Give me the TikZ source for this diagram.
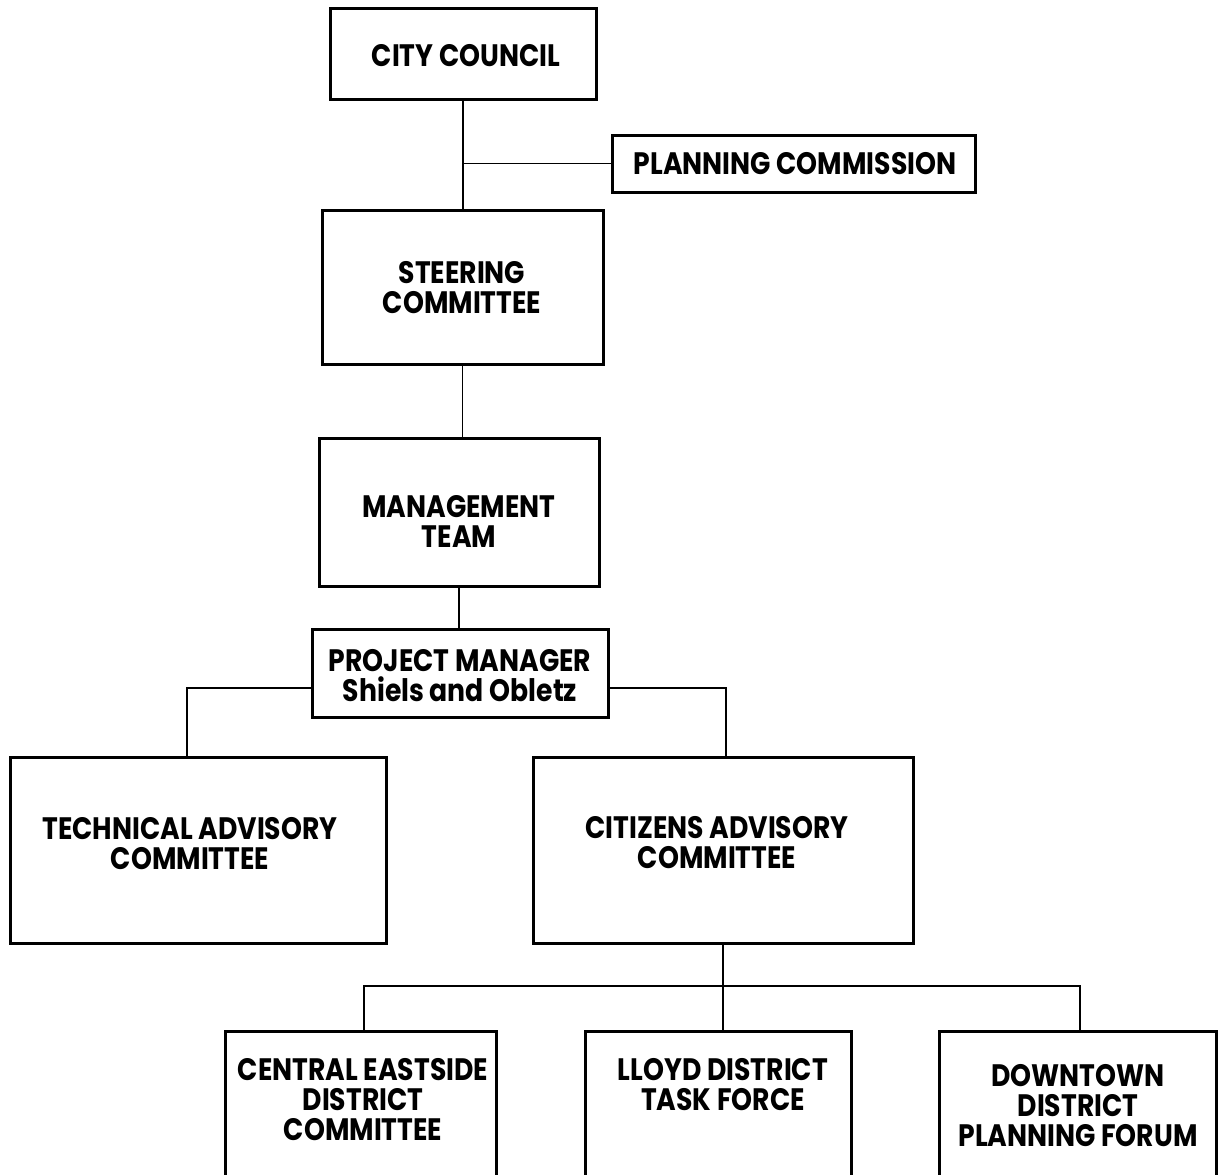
\documentclass[tikz,border=0pt]{standalone}
\usepackage{fontspec}
\newfontfamily\chartfont{Poppins}[FakeStretch=0.86]
\begin{document}
\begin{tikzpicture}[x=0.5pt,y=-0.5pt,
  box/.style={draw=black, line width=1.5pt, fill=white, inner sep=0pt, align=center,
    font=\chartfont\bfseries\fontsize{15.5pt}{15pt}\selectfont},
  txt/.style={inner sep=0pt, align=center, font=\chartfont\bfseries\fontsize{15.5pt}{15pt}\selectfont},
  link/.style={draw=black, line width=0.7pt}]
\clip (0,0) rectangle (1218,1174);
\fill[white] (0,0) rectangle (1218,1174);
% boxes
\node[box, minimum width=133pt, minimum height=45.5pt] (city) at (463,53.5) {};
\node[box, minimum width=181.5pt, minimum height=28.5pt] (plan) at (793.5,163.5) {};
\node[box, minimum width=140.5pt, minimum height=77pt] (steer) at (462.5,287) {};
\node[box, minimum width=140pt, minimum height=74pt] (mgmt) at (459,512) {};
\node[box, minimum width=148pt, minimum height=44pt] (pm) at (460,673) {};
\node[box, minimum width=188pt, minimum height=93pt] (tech) at (198,850) {};
\node[box, minimum width=190pt, minimum height=93pt] (cit) at (723,850) {};
\node[box, anchor=north, minimum width=135.5pt, minimum height=90pt] (central) at (360.5,1030) {};
\node[box, anchor=north, minimum width=133pt, minimum height=90pt] (lloyd) at (718,1030) {};
\node[box, anchor=north, minimum width=138.5pt, minimum height=90pt] (down) at (1077.5,1030) {};
% texts
\node[txt] (citytxt) at (466,56) {CITY COUNCIL};
\node[txt] (plantxt) at (795,164) {PLANNING COMMISSION};
\node[txt] (steertxt) at (462,288) {STEERING\\COMMITTEE};
\node[txt] (mgmttxt) at (459,521) {MANAGEMENT\\TEAM};
\node[txt] (pmtxt) at (460,676) {PROJECT MANAGER\\Shiels and Obletz};
\node[txt] (techtxt) at (190,844) {TECHNICAL ADVISORY\\COMMITTEE};
\node[txt] (cittxt) at (717,843) {CITIZENS ADVISORY\\COMMITTEE};
\node[txt] (centraltxt) at (363,1100) {CENTRAL EASTSIDE\\DISTRICT\\COMMITTEE};
\node[txt] (lloydtxt) at (723,1085) {LLOYD DISTRICT\\TASK FORCE};
\node[txt] (downtxt) at (1078,1106) {DOWNTOWN\\DISTRICT\\PLANNING FORUM};
% connectors
\draw[link] (city.south) -- (city.south |- steer.north);
\draw[link] (plan.west) -- (plan.west -| city.south);
\draw[link] (steer.south) -- (steer.south |- mgmt.north);
\draw[link] (mgmt.south) -- (mgmt.south |- pm.north);
\coordinate (tl) at (187,757);
\coordinate (cl) at (726,757);
\draw[link] ([yshift=-7.5pt]pm.west) -| (tl);
\draw[link] ([yshift=-7.5pt]pm.east) -| (cl);
\coordinate (bar) at (723,986);
\draw[link] (cit.south) -- (bar);
\coordinate (cc) at (364,1030);
\coordinate (lc) at (723,1030);
\coordinate (dc) at (1080,1030);
\draw[link] (cc) -- (364,986) -- (1080,986) -- (dc);
\draw[link] (bar) -- (lc);
\end{tikzpicture}
\end{document}
